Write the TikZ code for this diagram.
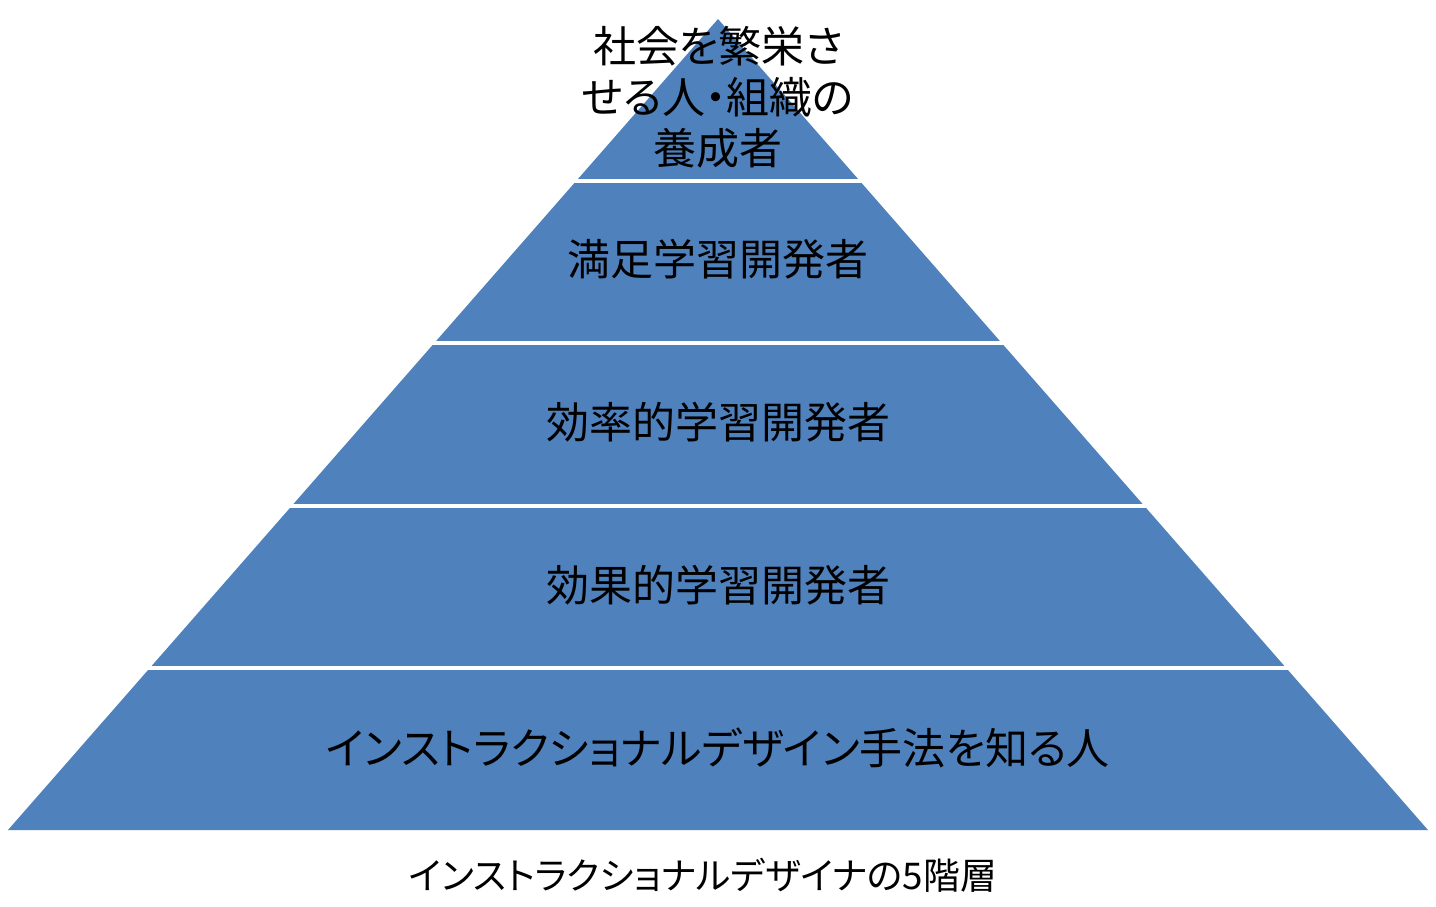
\documentclass[tikz,border=0pt]{standalone}
\usepackage{fontspec}
\newfontfamily\jpfont{Noto Sans CJK JP}
\newfontfamily\jpprop[RawFeature=+palt]{Noto Sans CJK JP}
\usepackage{tikz}
\usetikzlibrary{positioning,calc}
\definecolor{layerblue}{HTML}{4F81BD}

\begin{document}
\begin{tikzpicture}[
  x=0.5pt, y=-0.5pt,
  lbl/.style     = {align=center, inner sep=0pt,
                    font=\jpfont\fontsize{21.5}{25.5}\selectfont},
  kanalbl/.style = {lbl, font=\jpprop\fontsize{21.5}{25.5}\selectfont},
  captxt/.style  = {inner sep=0pt, font=\jpprop\fontsize{18.4}{22}\selectfont},
  sep/.style     = {white, line width=2pt,
                    shorten >=-4pt, shorten <=-4pt}
]
\useasboundingbox (0,0) rectangle (1436,906);

% Pyramid outline
\coordinate (apex) at (718,19);
\coordinate (bl)   at (8,830);
\coordinate (br)   at (1428,830);
\fill[layerblue] (apex) -- (bl) -- (br) -- cycle;

% Layer separators
\foreach \k in {1,...,4}
  \draw[sep] ($(apex)!\k/5!(bl)$) -- ($(apex)!\k/5!(br)$);

% Layer labels
\node[kanalbl] (top) at (718,97)  {社会を繁栄さ\\せる人・組織の\\養成者};
\node[lbl] (satis)  at (718,259) {満足学習開発者};
\node[lbl] (effic)  at (718,422) {効率的学習開発者};
\node[lbl] (effect) at (718,585) {効果的学習開発者};
\node[kanalbl] (know) at (718,748) {インストラクショナルデザイン手法を知る人};

% Caption
\node[captxt] (caption) at (703,875) {インストラクショナルデザイナの5階層};
\end{tikzpicture}
\end{document}
